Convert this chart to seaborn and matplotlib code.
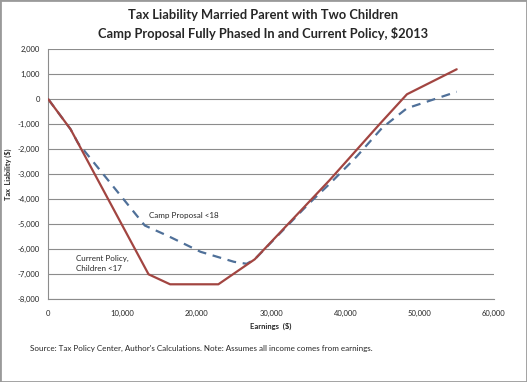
import matplotlib
matplotlib.use("Agg")
import matplotlib.pyplot as plt
import seaborn as sns
import pandas as pd

# values (earnings $, tax liability $)
earnings_current = [0, 3000, 13500, 16400, 22900, 27800, 37900, 44600, 48300, 55000]
tax_current = [0, -1200, -7000, -7400, -7400, -6400, -3230, -1000, 200, 1200]

earnings_camp = [0, 3000, 4000, 13000, 16000, 20500, 25000, 26700, 27800, 35000, 38000, 41500, 45000, 48300, 55000]
tax_camp = [0, -1200, -1750, -5050, -5450, -6100, -6500, -6580, -6400, -4200, -3350, -2300, -1130, -360, 300]

x_ticks = [0, 10000, 20000, 30000, 40000, 50000, 60000]
y_ticks = [2000, 1000, 0, -1000, -2000, -3000, -4000, -5000, -6000, -7000, -8000]

sns.set_style("white")
plt.rcParams['font.family'] = ['Lato', 'DejaVu Sans']

fig = plt.figure(figsize=(5.27, 3.82), dpi=100)
ax = fig.add_axes([0.0917, 0.2165, 0.8453, 0.6545])

grid = "#8c8c8c"
for v in y_ticks:
    ax.axhline(v, color=grid, lw=0.8, zorder=0)

sns.lineplot(x=earnings_camp, y=tax_camp, ax=ax, sort=False, color="#4f7099",
             lw=1.6, linestyle=(0, (4, 3)), zorder=2)
sns.lineplot(x=earnings_current, y=tax_current, ax=ax, sort=False, color="#a24541",
             lw=1.6, zorder=3)

ax.set_xlim(0, 60000)
ax.set_ylim(-8000, 2000)
ax.set_xticks(x_ticks)
ax.set_yticks(y_ticks)
ax.set_xticklabels([f"{v:,}" for v in x_ticks], fontsize=5.5)
ax.set_yticklabels([f"{v:,}" for v in y_ticks], fontsize=5.5)
ax.tick_params(axis="y", length=3, color=grid, width=0.8, pad=3)
ax.tick_params(axis="x", length=0, pad=8)

for s in ["top", "right"]:
    ax.spines[s].set_visible(False)
for s in ["left", "bottom"]:
    ax.spines[s].set_color(grid)
    ax.spines[s].set_linewidth(0.8)

ax.set_xlabel("Earnings  ($)", fontsize=5.5, fontweight="bold", labelpad=4)
ax.set_ylabel("Tax  Liability ($)", fontsize=5.3, fontweight="bold")
ax.yaxis.set_label_coords(-0.081, 0.5)

ax.text(13600, -4650, "Camp Proposal <18", fontsize=5.8, ha="left", va="center")
ax.text(3730, -6570, "Current Policy,\nChildren <17", fontsize=5.8, ha="left", va="center",
        linespacing=1.5)

fig.text(0.5, 0.96, "Tax Liability Married Parent with Two Children", ha="center", va="center",
         fontsize=9.3, fontweight="bold")
fig.text(0.5, 0.913, "Camp Proposal Fully Phased In and Current Policy, $2013", ha="center",
         va="center", fontsize=9.3, fontweight="bold")
fig.text(0.057, 0.089, "Source: Tax Policy Center, Author's Calculations. Note: Assumes all income comes from earnings.",
         ha="left", va="center", fontsize=5.8)

fig.add_artist(plt.Rectangle((0, 0), 1, 1, transform=fig.transFigure, fill=False,
                             edgecolor="#9a9a9a", lw=2))

fig.savefig("out.png", dpi=100)
